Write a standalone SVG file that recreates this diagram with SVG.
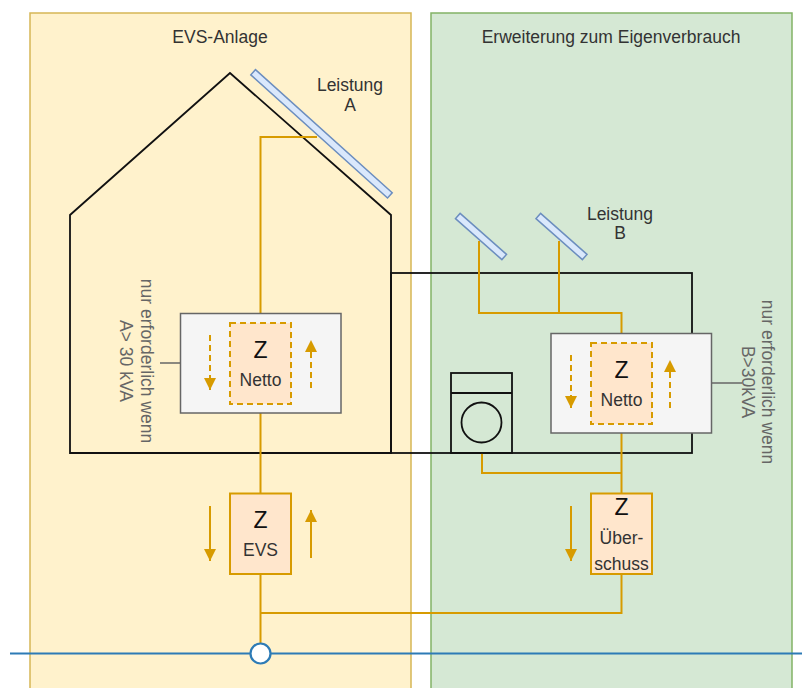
<svg xmlns="http://www.w3.org/2000/svg" width="802" height="688" viewBox="0 0 802 688">
<defs>
<style>
text{font-family:"Liberation Sans",Arial,sans-serif;font-size:17.5px;fill:#333;}
.z{font-size:23px;fill:#111;}
.rot{fill:#666;}
.wire{stroke:#d79b00;stroke-width:2;fill:none;}
.arr{stroke:#d79b00;stroke-width:2;fill:none;marker-end:url(#ah);}
.dash{stroke-dasharray:6 4;}
.zbox{fill:#ffe6cc;stroke:#d79b00;stroke-width:2;}
.gbox{fill:#f5f5f5;stroke:#666;stroke-width:1.5;}
.panel{fill:#dae8fc;stroke:#6c8ebf;stroke-width:1.5;}
.blk{fill:none;stroke:#111;stroke-width:1.8;}
.gl{stroke:#666;stroke-width:1.5;fill:none;}
</style>
<marker id="ah" viewBox="0 0 10 10" refX="10" refY="5" markerUnits="userSpaceOnUse" markerWidth="14" markerHeight="12" orient="auto">
<path d="M0,0 L10,5 L0,10 Z" fill="#d79b00"/>
</marker>
</defs>
<rect width="802" height="688" fill="#ffffff"/>
<g id="container-evs">
<rect x="30" y="13" width="381" height="690" fill="#fff2cc" stroke="#d6b656" stroke-width="1.5"/>
<text x="220" y="43" text-anchor="middle">EVS-Anlage</text>
</g>
<g id="container-erweiterung">
<rect x="431" y="13" width="361" height="690" fill="#d5e8d4" stroke="#82b366" stroke-width="1.5"/>
<text x="611" y="43" text-anchor="middle">Erweiterung zum Eigenverbrauch</text>
</g>
<g id="house">
<path class="blk" d="M70,453 L70,215 L230,73 L391,215 L391,453 Z"/>
</g>
<g id="extension">
<rect class="blk" x="391" y="273" width="301" height="180"/>
</g>
<g id="connectors">
<polyline class="wire" points="317,137 260.5,137 260.5,323"/>
<line class="wire" x1="260.5" y1="404" x2="260.5" y2="493"/>
<polyline class="wire" points="479,241 479,313 621.5,313 621.5,343"/>
<line class="wire" x1="559" y1="241" x2="559" y2="313"/>
<line class="wire" x1="621.5" y1="424" x2="621.5" y2="493"/>
<polyline class="wire" points="482,453 482,473 621.5,473"/>
<line class="wire" x1="260.5" y1="574" x2="260.5" y2="643"/>
<polyline class="wire" points="260.5,613 621.5,613 621.5,574"/>
<line class="gl" x1="160" y1="363" x2="180" y2="363"/>
<line class="gl" x1="712" y1="383" x2="742" y2="383"/>
<line x1="10" y1="653.5" x2="802" y2="653.5" stroke="#2d7bb6" stroke-width="2.2"/>
</g>
<g id="panel-a">
<rect class="panel" x="229.5" y="130.3" width="184" height="7" transform="rotate(42 321.5 133.8)"/>
<text x="350" y="91" text-anchor="middle">Leistung</text>
<text x="350" y="111" text-anchor="middle">A</text>
</g>
<g id="panel-b1">
<rect class="panel" x="450" y="233" width="62" height="7" transform="rotate(41.5 481 236.5)"/>
</g>
<g id="panel-b2">
<rect class="panel" x="530.5" y="233" width="62" height="7" transform="rotate(41.5 561.5 236.5)"/>
<text x="620" y="220" text-anchor="middle">Leistung</text>
<text x="620" y="239" text-anchor="middle">B</text>
</g>
<g id="netto-left">
<rect class="gbox" x="180.5" y="313.5" width="160.5" height="99.5"/>
<rect class="zbox dash" x="230" y="323" width="61" height="81"/>
<text class="z" x="260.5" y="358" text-anchor="middle">Z</text>
<text x="260.5" y="386" text-anchor="middle">Netto</text>
<line class="arr dash" x1="210" y1="335" x2="210" y2="390"/>
<line class="arr dash" x1="311" y1="388" x2="311" y2="340"/>
</g>
<g id="note-left">
<text class="rot" transform="translate(141 361) rotate(90)" text-anchor="middle">nur erforderlich wenn</text>
<text class="rot" transform="translate(120 361) rotate(90)" text-anchor="middle">A&gt; 30 kVA</text>
</g>
<g id="netto-right">
<rect class="gbox" x="551" y="333.5" width="160.5" height="99.5"/>
<rect class="zbox dash" x="591" y="343" width="61" height="81"/>
<text class="z" x="621.5" y="378" text-anchor="middle">Z</text>
<text x="621.5" y="405.5" text-anchor="middle">Netto</text>
<line class="arr dash" x1="571" y1="355" x2="571" y2="408"/>
<line class="arr dash" x1="670" y1="408" x2="670" y2="360"/>
</g>
<g id="note-right">
<text class="rot" transform="translate(762 382) rotate(90)" text-anchor="middle">nur erforderlich wenn</text>
<text class="rot" transform="translate(742 382) rotate(90)" text-anchor="middle">B&gt;30kVA</text>
</g>
<g id="washing-machine">
<rect class="blk" x="451" y="373" width="61" height="80"/>
<line class="blk" x1="451" y1="393" x2="512" y2="393"/>
<circle class="blk" cx="481.5" cy="422.5" r="20"/>
</g>
<g id="z-evs">
<rect class="zbox" x="230" y="493.5" width="61" height="80.5"/>
<text class="z" x="260.5" y="528" text-anchor="middle">Z</text>
<text x="260.5" y="556" text-anchor="middle">EVS</text>
<line class="arr" x1="210" y1="506" x2="210" y2="561"/>
<line class="arr" x1="311" y1="558" x2="311" y2="510"/>
</g>
<g id="z-ueberschuss">
<rect class="zbox" x="591" y="493.5" width="61" height="80.5"/>
<text class="z" x="621.5" y="515" text-anchor="middle">Z</text>
<text x="621.5" y="544" text-anchor="middle">Über-</text>
<text x="621.5" y="570" text-anchor="middle">schuss</text>
<line class="arr" x1="571" y1="506" x2="571" y2="561"/>
</g>
<g id="grid-point">
<circle cx="260.5" cy="653.5" r="10" fill="#ffffff" stroke="#2d7bb6" stroke-width="2.2"/>
</g>
</svg>
